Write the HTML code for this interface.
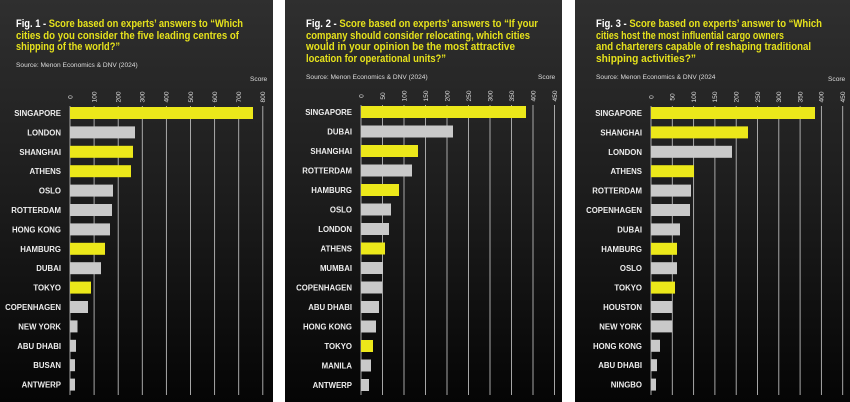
<!DOCTYPE html>
<html><head><meta charset="utf-8"><style>
html,body{margin:0;padding:0;background:#fff;width:850px;height:402px;overflow:hidden}
svg{display:block;font-family:"Liberation Sans",sans-serif}
.t{font-size:10.8px;font-weight:bold;fill:#e6e21c}
.w{fill:#fff}
.s{font-size:6.6px;fill:#ddd}
.k{font-size:6.6px;fill:#ddd}
.l{font-size:7.8px;font-weight:bold;fill:#eee;text-anchor:end}
.g{stroke:#b8b8b8;stroke-width:0.9}
.y{fill:#ece81a}.h{fill:#c9c9c9}
</style></head><body>
<svg width="850" height="402" viewBox="0 0 850 402">
<defs><linearGradient id="bg" x1="0" y1="0" x2="0" y2="1"><stop offset="0" stop-color="#2f2f2f"/><stop offset="0.5" stop-color="#1c1c1c"/><stop offset="1" stop-color="#050505"/></linearGradient></defs>
<rect x="0" y="0" width="273" height="402" fill="url(#bg)"/>
<rect x="285" y="0" width="277" height="402" fill="url(#bg)"/>
<rect x="575" y="0" width="275" height="402" fill="url(#bg)"/>

<!-- Panel 1 -->
<text class="t" x="16" y="27" textLength="227" lengthAdjust="spacingAndGlyphs"><tspan class="w">Fig. 1 - </tspan>Score based on experts’ answers to “Which</text>
<text class="t" x="16" y="39" textLength="223" lengthAdjust="spacingAndGlyphs">cities do you consider the five leading centres of</text>
<text class="t" x="16" y="50" textLength="104" lengthAdjust="spacingAndGlyphs">shipping of the world?”</text>
<text class="s" x="16" y="67">Source: Menon Economics &amp; DNV (2024)</text>
<text class="s" x="250" y="81">Score</text>
<g class="g">
<line x1="70" y1="106" x2="70" y2="395"/><line x1="94.1" y1="106" x2="94.1" y2="395"/><line x1="118.2" y1="106" x2="118.2" y2="395"/><line x1="142.3" y1="106" x2="142.3" y2="395"/><line x1="166.4" y1="106" x2="166.4" y2="395"/><line x1="190.5" y1="106" x2="190.5" y2="395"/><line x1="214.6" y1="106" x2="214.6" y2="395"/><line x1="238.7" y1="106" x2="238.7" y2="395"/><line x1="262.8" y1="106" x2="262.8" y2="395"/>
</g>
<g class="k" text-anchor="middle">
<text transform="translate(72.3,97) rotate(-90)">0</text><text transform="translate(96.4,97) rotate(-90)">100</text><text transform="translate(120.5,97) rotate(-90)">200</text><text transform="translate(144.6,97) rotate(-90)">300</text><text transform="translate(168.7,97) rotate(-90)">400</text><text transform="translate(192.8,97) rotate(-90)">500</text><text transform="translate(216.9,97) rotate(-90)">600</text><text transform="translate(241,97) rotate(-90)">700</text><text transform="translate(265.1,97) rotate(-90)">800</text>
</g>
<g>
<rect class="y" x="70" y="107" width="183" height="12"/>
<rect class="h" x="70" y="126.4" width="65" height="12"/>
<rect class="y" x="70" y="145.8" width="63" height="12"/>
<rect class="y" x="70" y="165.2" width="61" height="12"/>
<rect class="h" x="70" y="184.6" width="43" height="12"/>
<rect class="h" x="70" y="204" width="42" height="12"/>
<rect class="h" x="70" y="223.4" width="40" height="12"/>
<rect class="y" x="70" y="242.8" width="35" height="12"/>
<rect class="h" x="70" y="262.2" width="31" height="12"/>
<rect class="y" x="70" y="281.6" width="21" height="12"/>
<rect class="h" x="70" y="301" width="18" height="12"/>
<rect class="h" x="70" y="320.4" width="7.5" height="12"/>
<rect class="h" x="70" y="339.8" width="6" height="12"/>
<rect class="h" x="70" y="359.2" width="5" height="12"/>
<rect class="h" x="70" y="378.6" width="5" height="12"/>
</g>
<g class="l">
<text x="61" y="116">SINGAPORE</text><text x="61" y="135.4">LONDON</text><text x="61" y="154.8">SHANGHAI</text><text x="61" y="174.2">ATHENS</text><text x="61" y="193.6">OSLO</text><text x="61" y="213">ROTTERDAM</text><text x="61" y="232.4">HONG KONG</text><text x="61" y="251.8">HAMBURG</text><text x="61" y="271.2">DUBAI</text><text x="61" y="290.6">TOKYO</text><text x="61" y="310">COPENHAGEN</text><text x="61" y="329.4">NEW YORK</text><text x="61" y="348.8">ABU DHABI</text><text x="61" y="368.2">BUSAN</text><text x="61" y="387.6">ANTWERP</text>
</g>

<!-- Panel 2 -->
<text class="t" x="306" y="27" textLength="232" lengthAdjust="spacingAndGlyphs"><tspan class="w">Fig. 2 - </tspan>Score based on experts’ answers to “If your</text>
<text class="t" x="306" y="39" textLength="224" lengthAdjust="spacingAndGlyphs">company should consider relocating, which cities</text>
<text class="t" x="306" y="50" textLength="209" lengthAdjust="spacingAndGlyphs">would in your  opinion be the most attractive</text>
<text class="t" x="306" y="62" textLength="140" lengthAdjust="spacingAndGlyphs">location for operational units?”</text>
<text class="s" x="306" y="79">Source: Menon Economics &amp; DNV (2024)</text>
<text class="s" x="538" y="79">Score</text>
<g class="g">
<line x1="361" y1="105" x2="361" y2="395"/><line x1="382.5" y1="105" x2="382.5" y2="395"/><line x1="404" y1="105" x2="404" y2="395"/><line x1="425.5" y1="105" x2="425.5" y2="395"/><line x1="447" y1="105" x2="447" y2="395"/><line x1="468.5" y1="105" x2="468.5" y2="395"/><line x1="490" y1="105" x2="490" y2="395"/><line x1="511.5" y1="105" x2="511.5" y2="395"/><line x1="533" y1="105" x2="533" y2="395"/><line x1="554.5" y1="105" x2="554.5" y2="395"/>
</g>
<g class="k" text-anchor="middle">
<text transform="translate(363.3,96) rotate(-90)">0</text><text transform="translate(384.8,96) rotate(-90)">50</text><text transform="translate(406.3,96) rotate(-90)">100</text><text transform="translate(427.8,96) rotate(-90)">150</text><text transform="translate(449.3,96) rotate(-90)">200</text><text transform="translate(470.8,96) rotate(-90)">250</text><text transform="translate(492.3,96) rotate(-90)">300</text><text transform="translate(513.8,96) rotate(-90)">350</text><text transform="translate(535.3,96) rotate(-90)">400</text><text transform="translate(556.8,96) rotate(-90)">450</text>
</g>
<g>
<rect class="y" x="361" y="106" width="165" height="12"/>
<rect class="h" x="361" y="125.5" width="92" height="12"/>
<rect class="y" x="361" y="145" width="57" height="12"/>
<rect class="h" x="361" y="164.5" width="51" height="12"/>
<rect class="y" x="361" y="184" width="38" height="12"/>
<rect class="h" x="361" y="203.5" width="30" height="12"/>
<rect class="h" x="361" y="223" width="28" height="12"/>
<rect class="y" x="361" y="242.5" width="24" height="12"/>
<rect class="h" x="361" y="262" width="22" height="12"/>
<rect class="h" x="361" y="281.5" width="21" height="12"/>
<rect class="h" x="361" y="301" width="18" height="12"/>
<rect class="h" x="361" y="320.5" width="15" height="12"/>
<rect class="y" x="361" y="340" width="12" height="12"/>
<rect class="h" x="361" y="359.5" width="10" height="12"/>
<rect class="h" x="361" y="379" width="8" height="12"/>
</g>
<g class="l">
<text x="352" y="115">SINGAPORE</text><text x="352" y="134.5">DUBAI</text><text x="352" y="154">SHANGHAI</text><text x="352" y="173.5">ROTTERDAM</text><text x="352" y="193">HAMBURG</text><text x="352" y="212.5">OSLO</text><text x="352" y="232">LONDON</text><text x="352" y="251.5">ATHENS</text><text x="352" y="271">MUMBAI</text><text x="352" y="290.5">COPENHAGEN</text><text x="352" y="310">ABU DHABI</text><text x="352" y="329.5">HONG KONG</text><text x="352" y="349">TOKYO</text><text x="352" y="368.5">MANILA</text><text x="352" y="388">ANTWERP</text>
</g>

<!-- Panel 3 -->
<text class="t" x="596" y="27" textLength="226" lengthAdjust="spacingAndGlyphs"><tspan class="w">Fig. 3 - </tspan>Score based on experts’ answer to “Which</text>
<text class="t" x="596" y="39" textLength="188" lengthAdjust="spacingAndGlyphs">cities host the most influential cargo owners</text>
<text class="t" x="596" y="50" textLength="215" lengthAdjust="spacingAndGlyphs">and charterers capable of reshaping traditional</text>
<text class="t" x="596" y="62" textLength="100" lengthAdjust="spacingAndGlyphs">shipping activities?”</text>
<text class="s" x="596" y="79">Source: Menon Economics &amp; DNV (2024</text>
<text class="s" x="828" y="81">Score</text>
<g class="g">
<line x1="651" y1="106" x2="651" y2="395"/><line x1="672.3" y1="106" x2="672.3" y2="395"/><line x1="693.6" y1="106" x2="693.6" y2="395"/><line x1="714.9" y1="106" x2="714.9" y2="395"/><line x1="736.2" y1="106" x2="736.2" y2="395"/><line x1="757.5" y1="106" x2="757.5" y2="395"/><line x1="778.8" y1="106" x2="778.8" y2="395"/><line x1="800.1" y1="106" x2="800.1" y2="395"/><line x1="821.4" y1="106" x2="821.4" y2="395"/><line x1="842.7" y1="106" x2="842.7" y2="395"/>
</g>
<g class="k" text-anchor="middle">
<text transform="translate(653.3,97) rotate(-90)">0</text><text transform="translate(674.6,97) rotate(-90)">50</text><text transform="translate(695.9,97) rotate(-90)">100</text><text transform="translate(717.2,97) rotate(-90)">150</text><text transform="translate(738.5,97) rotate(-90)">200</text><text transform="translate(759.8,97) rotate(-90)">250</text><text transform="translate(781.1,97) rotate(-90)">300</text><text transform="translate(802.4,97) rotate(-90)">350</text><text transform="translate(823.7,97) rotate(-90)">400</text><text transform="translate(845,97) rotate(-90)">450</text>
</g>
<g>
<rect class="y" x="651" y="107" width="164" height="12"/>
<rect class="y" x="651" y="126.4" width="97" height="12"/>
<rect class="h" x="651" y="145.8" width="81" height="12"/>
<rect class="y" x="651" y="165.2" width="43" height="12"/>
<rect class="h" x="651" y="184.6" width="40" height="12"/>
<rect class="h" x="651" y="204" width="39" height="12"/>
<rect class="h" x="651" y="223.4" width="29" height="12"/>
<rect class="y" x="651" y="242.8" width="26" height="12"/>
<rect class="h" x="651" y="262.2" width="26" height="12"/>
<rect class="y" x="651" y="281.6" width="24" height="12"/>
<rect class="h" x="651" y="301" width="21" height="12"/>
<rect class="h" x="651" y="320.4" width="21" height="12"/>
<rect class="h" x="651" y="339.8" width="9" height="12"/>
<rect class="h" x="651" y="359.2" width="6" height="12"/>
<rect class="h" x="651" y="378.6" width="5" height="12"/>
</g>
<g class="l">
<text x="642" y="116">SINGAPORE</text><text x="642" y="135.4">SHANGHAI</text><text x="642" y="154.8">LONDON</text><text x="642" y="174.2">ATHENS</text><text x="642" y="193.6">ROTTERDAM</text><text x="642" y="213">COPENHAGEN</text><text x="642" y="232.4">DUBAI</text><text x="642" y="251.8">HAMBURG</text><text x="642" y="271.2">OSLO</text><text x="642" y="290.6">TOKYO</text><text x="642" y="310">HOUSTON</text><text x="642" y="329.4">NEW YORK</text><text x="642" y="348.8">HONG KONG</text><text x="642" y="368.2">ABU DHABI</text><text x="642" y="387.6">NINGBO</text>
</g>
</svg>
</body></html>
